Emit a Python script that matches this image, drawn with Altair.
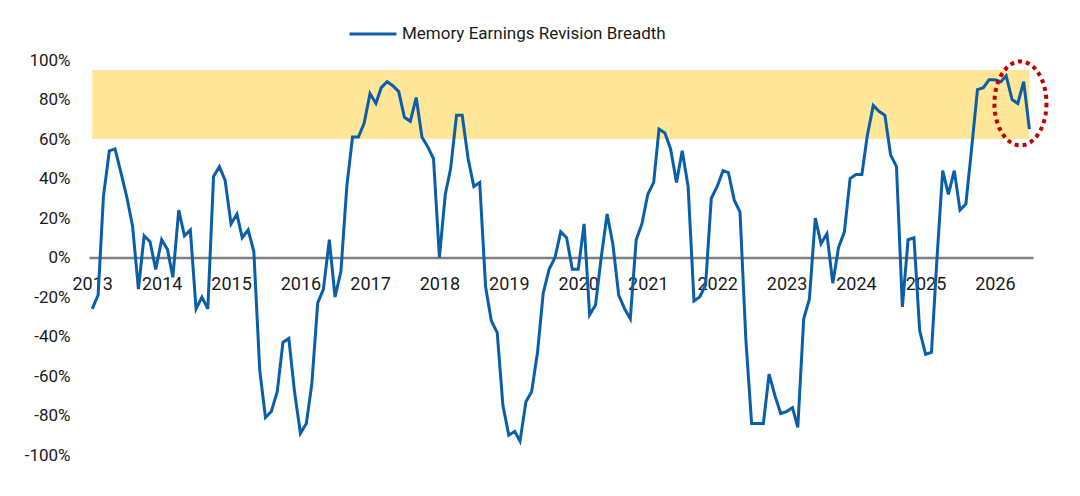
import altair as alt
import numpy as np
import pandas as pd

# ---------------- data ----------------
series_name = "Memory Earnings Revision Breadth"
start_month = "2013-01-01"
values = [
    -26, -19, 31, 54, 55, 43, 31, 16, -16, 11, 8, -6,          # 2013
    9, 4, -10, 24, 11, 14, -26, -20, -26, 41, 46, 39,          # 2014
    17, 22, 10, 14, 3, -57, -81, -78, -68, -43, -41, -68,      # 2015
    -89, -84, -64, -23, -16, 9, -20, -7, 36, 61, 61, 68,       # 2016
    83, 78, 86, 89, 87, 84, 71, 69, 81, 61, 56, 50,            # 2017
    0, 32, 45, 72, 72, 50, 36, 38, -15, -32, -38, -75,         # 2018
    -90, -88, -93, -73, -68, -48, -18, -6, 0, 13, 10, -6,      # 2019
    -6, 17, -29, -24, 0, 22, 7, -19, -26, -31, 9, 17,          # 2020
    32, 38, 65, 63, 55, 38, 54, 36, -22, -20, -14, 30,         # 2021
    36, 44, 43, 29, 23, -42, -84, -84, -84, -59, -70, -79,     # 2022
    -78, -76, -86, -31, -21, 20, 7, 12, -13, 5, 13, 40,        # 2023
    42, 42, 62, 77, 74, 72, 52, 46, -25, 9, 10, -37,           # 2024
    -49, -48, -2, 44, 32, 44, 24, 27, 56, 85, 86, 90,          # 2025
    90, 89, 92, 80, 78, 89, 65,                                # 2026
]
years = list(range(2013, 2027))
y_ticks = list(range(-100, 101, 20))
band_low, band_high = 60, 95
highlight_date, highlight_value = "2026-05-15", 78

dates = pd.date_range(start_month, periods=len(values), freq="MS")
df = pd.DataFrame({"date": dates.strftime("%Y-%m-%d"), "value": values, "series": series_name})
band_df = pd.DataFrame({"start": [df["date"].iloc[0]], "end": [df["date"].iloc[-1]],
                        "lo": [band_low], "hi": [band_high]})
hl_df = pd.DataFrame({"date": [highlight_date], "value": [highlight_value]})

# ---------------- styles ----------------
BLUE = "#0B5EA8"
BAND = "#FFE699"
RED = "#C00000"
TXT = "#1a1a1a"
FONT = "Roboto"

year_ticks = [int(pd.Timestamp(f"{y}-01-01", tz="UTC").value // 10**6) for y in years]

x_scale = alt.Scale(type="utc",
                    domain=[alt.DateTime(year=2012, month=12, date=15, utc=True),
                            alt.DateTime(year=2026, month=7, date=20, utc=True)])
y_scale = alt.Scale(domain=[-100, 100], nice=False)

x_axis = alt.Axis(values=year_ticks, labelExpr="utcFormat(datum.value, '%Y')",
                  offset=-197.5, domainColor="#808080", domainWidth=2.5, ticks=False,
                  grid=False, labelPadding=18, labelFontSize=18, labelFont=FONT,
                  labelColor=TXT, labelBaseline="top", labelFlush=False, labelOverlap=False,
                  title=None)
y_axis = alt.Axis(values=y_ticks, labelExpr="datum.value + '%'", grid=False, domain=False,
                  ticks=False, labelPadding=19, labelFontSize=17, labelFont=FONT,
                  labelColor=TXT, labelOverlap=False, labelFlush=False,
                  labelBound=False, title=None)

band = alt.Chart(band_df).mark_rect(color=BAND).encode(
    x=alt.X("start:T", scale=x_scale, axis=x_axis),
    x2="end:T",
    y=alt.Y("lo:Q", scale=y_scale, axis=y_axis),
    y2="hi:Q",
)

line = alt.Chart(df).mark_line(strokeWidth=3).encode(
    x=alt.X("date:T", scale=x_scale, axis=x_axis),
    y=alt.Y("value:Q", scale=y_scale, axis=y_axis),
    color=alt.Color("series:N", scale=alt.Scale(range=[BLUE]),
                    legend=alt.Legend(orient="none", legendX=259, legendY=-51,
                                      symbolType="stroke", symbolSize=2209,
                                      symbolStrokeWidth=3, labelFontSize=17,
                                      labelFont=FONT, labelColor=TXT, labelOffset=4,
                                      labelLimit=0, padding=0, title=None)),
)

# ellipse outline as a custom symbol path (unit ellipse, scaled by size)
t = np.linspace(0, 2 * np.pi, 73)
pts = [f"{0.62 * np.cos(a):.4f},{np.sin(a):.4f}" for a in t]
ellipse_path = "M" + " L".join(pts) + " Z"

ellipse = alt.Chart(hl_df).mark_point(
    shape=ellipse_path, size=84 * 84, filled=False, stroke=RED, strokeWidth=4,
    strokeDash=[4, 4], opacity=1,
).encode(
    x=alt.X("date:T", scale=x_scale, axis=x_axis),
    y=alt.Y("value:Q", scale=y_scale, axis=y_axis),
)

chart = alt.layer(band, line, ellipse).properties(
    width=944, height=395,
    autosize=alt.AutoSizeParams(type="none"),
    padding={"left": 81, "top": 52, "right": 30, "bottom": 25},
).configure(font=FONT).configure_view(stroke=None, strokeWidth=0).configure_axis(
    labelOverlap=False
)

chart.save("out.html", embed_options={"renderer": "svg", "actions": False})
